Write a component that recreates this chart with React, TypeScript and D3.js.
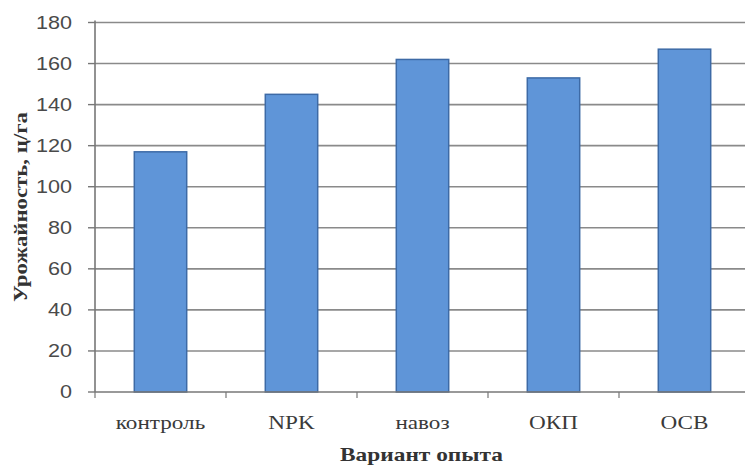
import React from "react";
import * as d3 from "d3";

const categories = ["контроль", "NPK", "навоз", "ОКП", "ОСВ"];
const values = [117, 145, 162, 153, 167];
const yTicks = [0, 20, 40, 60, 80, 100, 120, 140, 160, 180];
const yTitle = "Урожайность, ц/га";
const xTitle = "Вариант опыта";

export default function App() {
  const W = 745, H = 466;
  const left = 95, right = 750, top = 22.5, bottom = 392;
  const x = d3.scaleBand<string>().domain(categories).range([left, right]).paddingInner(0.6).paddingOuter(0.3);
  const xb = d3.scaleBand<string>().domain(categories).range([left, right]);
  const y = d3.scaleLinear().domain([0, 180]).range([bottom, top]);
  const serif = "'Liberation Serif', 'Times New Roman', serif";
  const sans = "'Liberation Sans', Arial, sans-serif";
  return (
    <svg width={W} height={H} style={{ position: "absolute", left: 0, top: 0, background: "#fff" }}>
      <rect width={W} height={H} fill="#fff" />
      {yTicks.map((t) => (
        <g key={t}>
          {t > 0 && <line x1={left} x2={W} y1={y(t)} y2={y(t)} stroke="#8a8a8a" strokeWidth={1.6} />}
          <line x1={left - 7} x2={left} y1={y(t)} y2={y(t)} stroke="#777" strokeWidth={1.4} />
          <g transform={`translate(72,${y(t)}) scale(1.2,1)`}>
            <text dy="0.35em" textAnchor="end" fontFamily={sans} fontSize={18} fill="#4a4a4a">
              {t}
            </text>
          </g>
        </g>
      ))}
      {categories.map((c, i) => (
        <rect
          key={c}
          x={x(c)!}
          y={y(values[i])}
          width={x.bandwidth()}
          height={bottom - y(values[i])}
          fill="#5f95d8"
          stroke="#3d6aa6"
          strokeWidth={1.5}
        />
      ))}
      <line x1={left} x2={left} y1={top - 2} y2={bottom} stroke="#777" strokeWidth={1.6} />
      <line x1={left} x2={W} y1={bottom} y2={bottom} stroke="#777" strokeWidth={1.6} />
      {categories.map((c) => (
        <line key={"t" + c} x1={xb(c)!} x2={xb(c)!} y1={bottom} y2={bottom + 6} stroke="#777" strokeWidth={1.2} />
      ))}
      {categories.map((c) => (
        <g key={"l" + c} transform={`translate(${xb(c)! + xb.bandwidth() / 2},429) scale(1.22,1)`}>
          <text textAnchor="middle" fontFamily={serif} fontSize={19} fill="#3a3a3a">
            {c}
          </text>
        </g>
      ))}
      <text x={340} y={461} textLength={163} lengthAdjust="spacingAndGlyphs" fontFamily={serif} fontWeight="bold" fontSize={19} fill="#333">
        {xTitle}
      </text>
      <text transform={`translate(27,302) rotate(-90)`} textLength={190} lengthAdjust="spacingAndGlyphs" fontFamily={serif} fontWeight="bold" fontSize={19} fill="#333">
        {yTitle}
      </text>
    </svg>
  );
}
